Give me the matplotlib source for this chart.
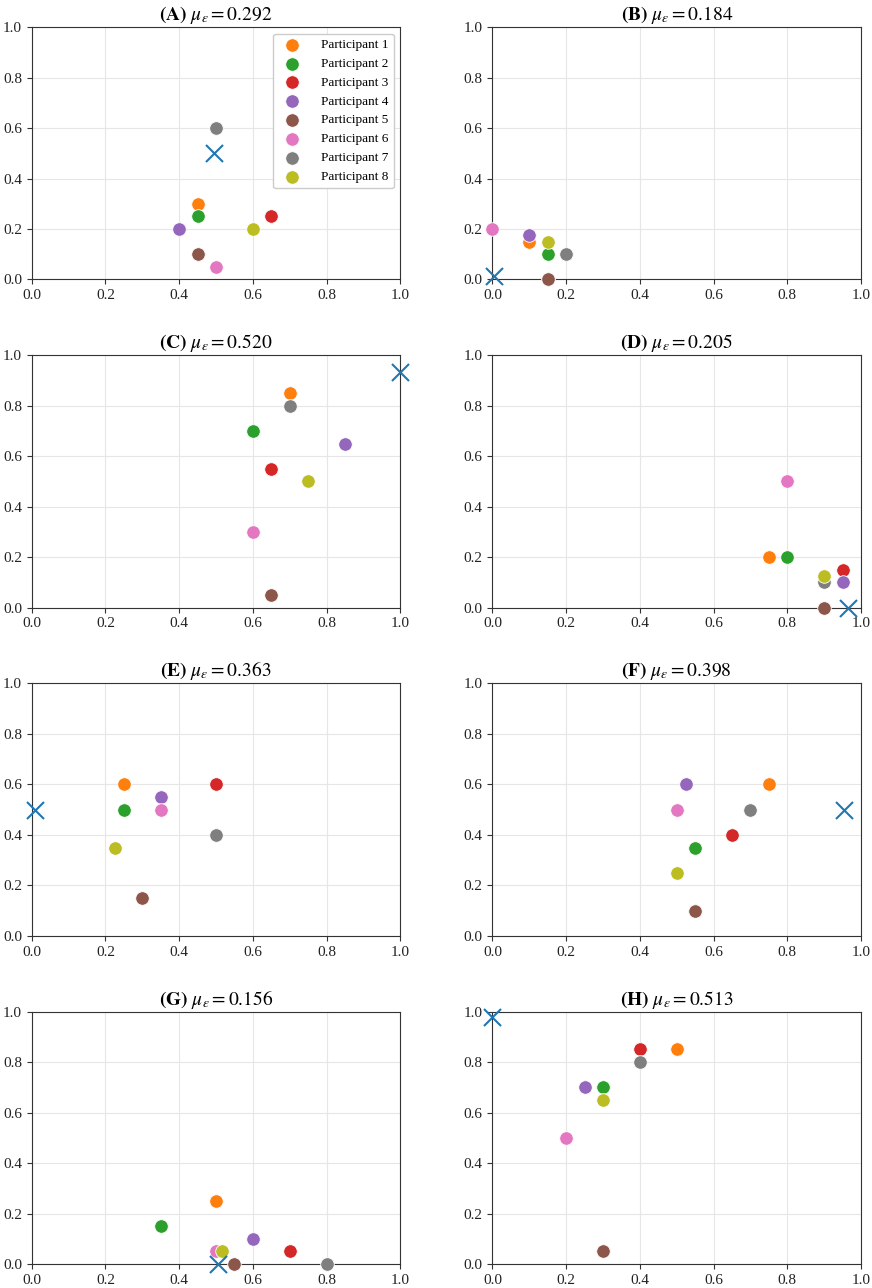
import numpy as np
import matplotlib
matplotlib.use("Agg")
import matplotlib.pyplot as plt

plt.rcParams['font.family'] = ['Liberation Serif', 'DejaVu Serif']
plt.rcParams['mathtext.fontset'] = 'stix'
plt.rcParams['font.size'] = 11

panels = ['A', 'B', 'C', 'D', 'E', 'F', 'G', 'H']
mu_eps = [0.292, 0.184, 0.520, 0.205, 0.363, 0.398, 0.156, 0.513]
participants = ['Participant %d' % i for i in range(1, 9)]

# x, y of participants 1..8 for each panel
part_x = [
    [0.45, 0.45, 0.65, 0.40, 0.45, 0.50, 0.50, 0.60],
    [0.10, 0.15, 0.15, 0.10, 0.15, 0.00, 0.20, 0.15],
    [0.70, 0.60, 0.65, 0.85, 0.65, 0.60, 0.70, 0.75],
    [0.75, 0.80, 0.95, 0.95, 0.90, 0.80, 0.90, 0.90],
    [0.25, 0.25, 0.50, 0.35, 0.30, 0.35, 0.50, 0.225],
    [0.75, 0.55, 0.65, 0.525, 0.55, 0.50, 0.70, 0.50],
    [0.50, 0.35, 0.70, 0.60, 0.55, 0.50, 0.80, 0.515],
    [0.50, 0.30, 0.40, 0.25, 0.30, 0.20, 0.40, 0.30],
]
part_y = [
    [0.30, 0.25, 0.25, 0.20, 0.10, 0.05, 0.60, 0.20],
    [0.15, 0.10, 0.00, 0.175, 0.00, 0.20, 0.10, 0.15],
    [0.85, 0.70, 0.55, 0.65, 0.05, 0.30, 0.80, 0.50],
    [0.20, 0.20, 0.15, 0.10, 0.00, 0.50, 0.10, 0.125],
    [0.60, 0.50, 0.60, 0.55, 0.15, 0.50, 0.40, 0.35],
    [0.60, 0.35, 0.40, 0.60, 0.10, 0.50, 0.50, 0.25],
    [0.25, 0.15, 0.05, 0.10, 0.00, 0.05, 0.00, 0.05],
    [0.85, 0.70, 0.85, 0.70, 0.05, 0.50, 0.80, 0.65],
]
# the blue cross in each panel
true_x = [0.495, 0.005, 1.00, 0.965, 0.01, 0.955, 0.505, 0.00]
true_y = [0.50, 0.015, 0.935, 0.00, 0.50, 0.50, 0.00, 0.98]

colors = ['tab:orange', 'tab:green', 'tab:red', 'tab:purple',
          'tab:brown', 'tab:pink', 'tab:gray', 'tab:olive']

fig, axes = plt.subplots(4, 2, figsize=(8.72, 12.88), dpi=100)
fig.subplots_adjust(left=0.0364, right=0.9874, top=0.979, bottom=0.0186,
                    wspace=0.25, hspace=0.30)

for k, ax in enumerate(axes.flat):
    ax.grid(True, color='#e6e6e6', linewidth=0.8)
    ax.set_axisbelow(True)
    for i in range(8):
        ax.scatter(part_x[k][i], part_y[k][i], s=95, color=colors[i],
                   edgecolors='white', linewidths=0.6, clip_on=False,
                   zorder=3, label=participants[i])
    ax.scatter(true_x[k], true_y[k], marker='x', s=150, color='tab:blue',
               linewidths=1.5, clip_on=False, zorder=4)
    ax.set_xlim(0, 1)
    ax.set_ylim(0, 1)
    ax.set_xticks(np.arange(0, 1.01, 0.2))
    ax.set_yticks(np.arange(0, 1.01, 0.2))
    for sp in ax.spines.values():
        sp.set_color('#333333')
    ax.tick_params(colors='#333333', labelcolor='#222222', labelsize=11)
    ax.set_title(r'$\mathbf{(%s)}\ \mu_{\varepsilon} = %.3f$' % (panels[k], mu_eps[k]),
                 fontsize=14, pad=5)
    if k == 0:
        ax.legend(loc='upper right', fontsize=9.5, framealpha=1,
                  edgecolor='#cccccc', handletextpad=1.2, labelspacing=0.5)

fig.savefig("out.png", dpi=100)
